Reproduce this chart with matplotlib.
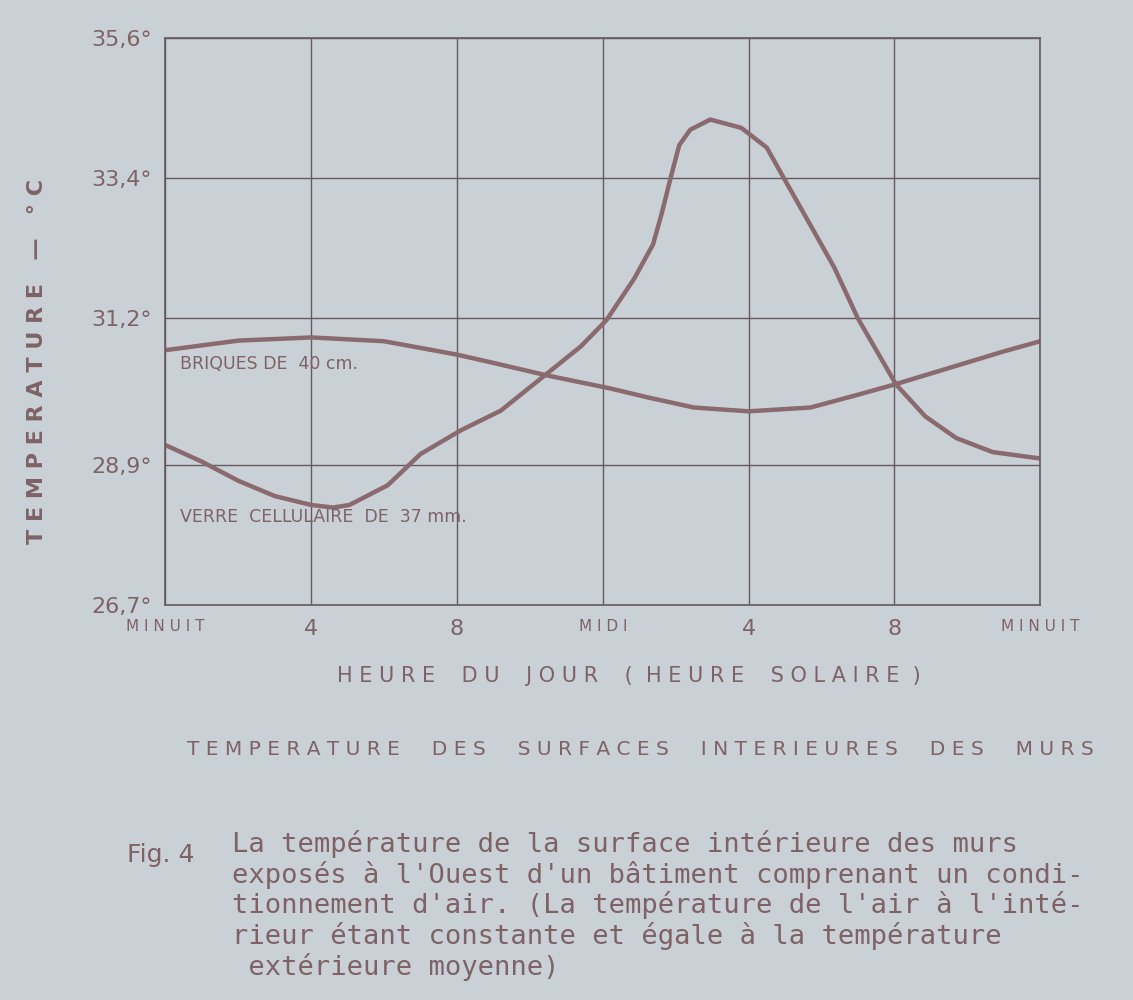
## Temperature des surfaces interieures des murs (Fig. 4)
import matplotlib.pyplot as plt

# heure du jour (heure solaire), 0 = minuit, 24 = minuit
heures_briques = [0, 2, 4, 6, 8, 9, 10.5, 12.2, 13.3, 14.5, 16, 17.7, 19, 20, 21.5, 23, 24]
temp_briques = [30.7, 30.85, 30.9, 30.84, 30.63, 30.5, 30.3, 30.1, 29.95, 29.8, 29.74, 29.8,
                30.0, 30.16, 30.42, 30.68, 30.84]

heures_verre = [0, 1, 2, 3, 4, 4.6, 5.05, 6.1, 7, 8.1, 9.2, 10.4, 11.4, 12.1, 12.86, 13.38,
                13.62, 13.86, 14.1, 14.4, 14.95, 15.8, 16.5, 16.95, 17.8, 18.35, 19.0, 20.05,
                20.85, 21.7, 22.7, 24]
temp_verre = [29.21, 28.95, 28.65, 28.41, 28.27, 28.23, 28.27, 28.58, 29.07, 29.44, 29.75, 30.3,
              30.76, 31.17, 31.82, 32.36, 32.85, 33.4, 33.92, 34.16, 34.32, 34.19, 33.88, 33.42,
              32.56, 32.0, 31.2, 30.16, 29.66, 29.32, 29.1, 29.0]

y_ticks = [26.7, 28.9, 31.2, 33.4, 35.6]
y_labels = ["26,7°", "28,9°", "31,2°", "33,4°", "35,6°"]
x_ticks = [0, 4, 8, 12, 16, 20, 24]
x_labels = ["M I N U I T", "4", "8", "M I D I", "4", "8", "M I N U I T"]

caption = ("La température de la surface intérieure des murs\n"
           "exposés à l'Ouest d'un bâtiment comprenant un condi-\n"
           "tionnement d'air. (La température de l'air à l'inté-\n"
           "rieur étant constante et égale à la température\n"
           " extérieure moyenne)")

paper = "#c9d1d7"
ink = "#7e6266"
curve = "#8a6a6e"
grid = "#675a5d"

fig = plt.figure(figsize=(11.33, 10), dpi=100, facecolor=paper)
ax = fig.add_axes([0.146, 0.395, 0.772, 0.567], facecolor=paper)

for h, t in [(heures_briques, temp_briques), (heures_verre, temp_verre)]:
    ax.plot(h, t, color=curve, lw=3.2, solid_capstyle="round", solid_joinstyle="round")

ax.set_xlim(0, 24)
ax.set_ylim(26.7, 35.6)
ax.set_xticks(x_ticks)
ax.set_xticklabels(x_labels)
ax.set_yticks(y_ticks)
ax.set_yticklabels(y_labels)
ax.tick_params(length=0, colors=ink, labelsize=16, pad=10)
for lab in ax.get_xticklabels():
    if lab.get_text().startswith("M"):
        lab.set_fontsize(11)
ax.grid(True, color=grid, lw=1.0)
for s in ax.spines.values():
    s.set_color(grid)
    s.set_linewidth(1.2)

ax.text(0.4, 30.4, "BRIQUES DE  40 cm.", color=ink, fontsize=12.5)
ax.text(0.4, 28.0, "VERRE  CELLULAIRE  DE  37 mm.", color=ink, fontsize=12.5)

ax.set_ylabel("T E M P E R A T U R E   —   ° C", color=ink, fontsize=16, fontweight="bold")
ax.yaxis.set_label_coords(-0.135, 0.43)

fig.text(0.555, 0.318, "H E U R E    D U    J O U R    (  H E U R E    S O L A I R E  )",
         color=ink, fontsize=15, ha="center")
fig.text(0.565, 0.245, "T E M P E R A T U R E     D E S     S U R F A C E S     I N T E R I E U R E S     D E S     M U R S",
         color=ink, fontsize=14.5, ha="center")

fig.text(0.112, 0.138, "Fig. 4", color=ink, fontsize=18)
fig.text(0.205, 0.17, caption, color=ink, fontsize=19.5, family="DejaVu Sans Mono",
         va="top", linespacing=1.12)

plt.savefig("out.png", dpi=100, facecolor=paper)
